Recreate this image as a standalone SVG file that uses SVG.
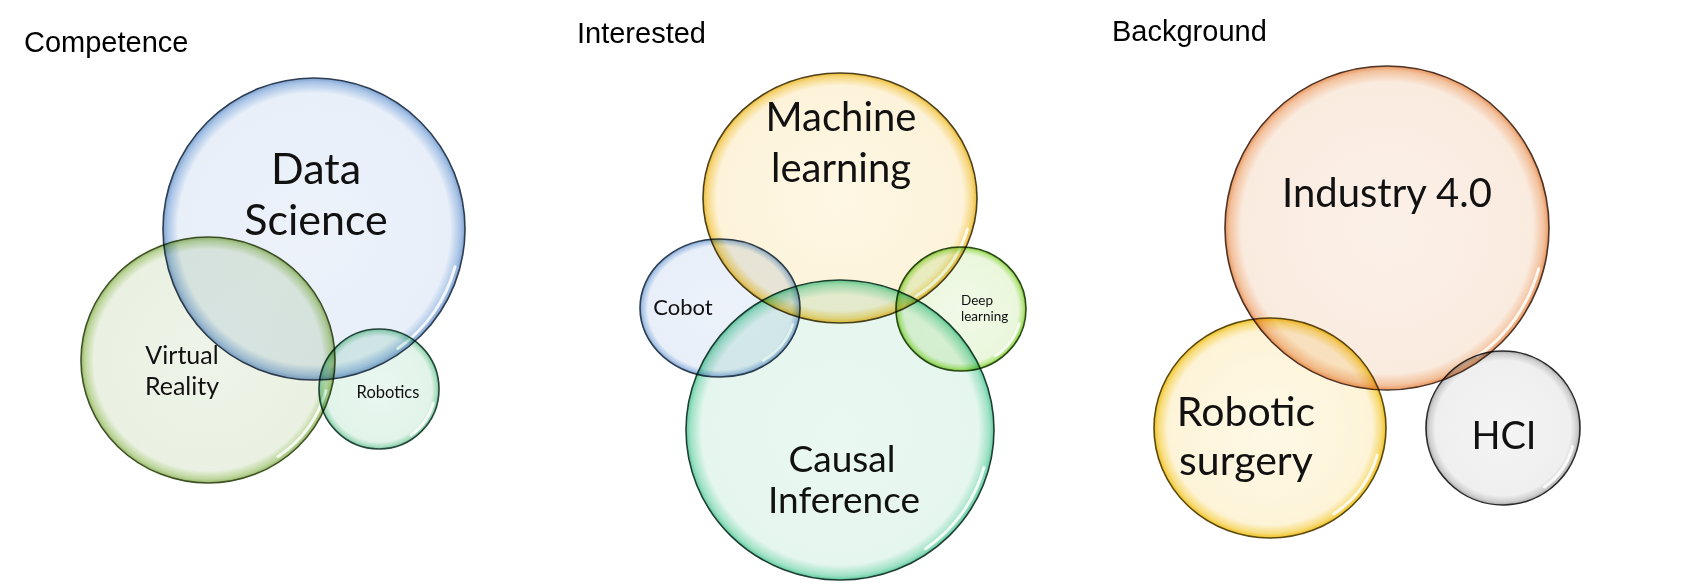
<svg xmlns="http://www.w3.org/2000/svg" width="1688" height="586" viewBox="0 0 1688 586">
<defs>
<radialGradient id="gBlue"><stop offset="0" stop-color="#EDF2FA"/><stop offset="0.9" stop-color="#E8EFF9"/><stop offset="0.97" stop-color="#A9C4E6"/><stop offset="1" stop-color="#7FA3D2"/></radialGradient>
<radialGradient id="gGreen"><stop offset="0" stop-color="#EEF4E8"/><stop offset="0.9" stop-color="#EAF1E2"/><stop offset="0.97" stop-color="#BCD59A"/><stop offset="1" stop-color="#96B868"/></radialGradient>
<radialGradient id="gTeal"><stop offset="0" stop-color="#E9F7F0"/><stop offset="0.88" stop-color="#E2F4EA"/><stop offset="0.96" stop-color="#A8DDBF"/><stop offset="1" stop-color="#79C79E"/></radialGradient>
<radialGradient id="gGold"><stop offset="0" stop-color="#FEF7E4"/><stop offset="0.9" stop-color="#FDF3DA"/><stop offset="0.97" stop-color="#F6D77E"/><stop offset="1" stop-color="#EEBB33"/></radialGradient>
<radialGradient id="gLime"><stop offset="0" stop-color="#F1F9E8"/><stop offset="0.88" stop-color="#EAF7DC"/><stop offset="0.96" stop-color="#B6E584"/><stop offset="1" stop-color="#7CCB32"/></radialGradient>
<radialGradient id="gAqua"><stop offset="0" stop-color="#EAF8F2"/><stop offset="0.9" stop-color="#E5F6EE"/><stop offset="0.97" stop-color="#A0E2C6"/><stop offset="1" stop-color="#62CDA0"/></radialGradient>
<radialGradient id="gOrange"><stop offset="0" stop-color="#FBF0E8"/><stop offset="0.9" stop-color="#FAEBDF"/><stop offset="0.97" stop-color="#F3C29E"/><stop offset="1" stop-color="#E9965E"/></radialGradient>
<radialGradient id="gYellow"><stop offset="0" stop-color="#FEF8E6"/><stop offset="0.88" stop-color="#FDF4D8"/><stop offset="0.96" stop-color="#F8DC7A"/><stop offset="1" stop-color="#F0C020"/></radialGradient>
<radialGradient id="gGray"><stop offset="0" stop-color="#F4F4F4"/><stop offset="0.88" stop-color="#EFEFEF"/><stop offset="0.96" stop-color="#CFCFCF"/><stop offset="1" stop-color="#A8A8A8"/></radialGradient>
</defs>
<style>
.bub{mix-blend-mode:multiply;stroke-width:1.6}
.hl{fill:none;stroke:#FFFFFF;stroke-width:3;stroke-linecap:round;opacity:0.85}
.title{font-family:"Liberation Sans",Arial,sans-serif;font-size:29px;fill:#000}
.lbl{font-family:Lato,"Open Sans",sans-serif;fill:#111;text-anchor:middle}
.lbs{font-family:Lato,"Open Sans",sans-serif;fill:#111;font-size:13.5px}
</style>
<rect width="1688" height="586" fill="#FFFFFF"/>

<g id="titles">
<text class="title" x="24" y="52">Competence</text>
<text class="title" x="577" y="43">Interested</text>
<text class="title" x="1112" y="41">Background</text>
</g>

<g id="connectors"></g>

<g id="data-science">
<ellipse class="bub" cx="314" cy="229" rx="151" ry="151" fill="url(#gBlue)" stroke="#2E3E52"/>
<path class="hl" d="M455,266.8 A146,146 0 0 1 397.8,348.6"/>
</g>
<g id="virtual-reality">
<ellipse class="bub" cx="208" cy="360" rx="127" ry="123" fill="url(#gGreen)" stroke="#3F5226"/>
<path class="hl" d="M325.9,390.6 A122,118 0 0 1 278,456.6"/>
</g>
<g id="robotics">
<ellipse class="bub" cx="379" cy="389" rx="60" ry="60" fill="url(#gTeal)" stroke="#24473A"/>
<path class="hl" d="M433.1,403.5 A56,56 0 0 1 411.1,434.9"/>
</g>

<g id="machine-learning">
<ellipse class="bub" cx="840" cy="198" rx="137" ry="125" fill="url(#gGold)" stroke="#4D401C"/>
<path class="hl" d="M967.5,229.1 A132,120 0 0 1 915.8,296.3"/>
</g>
<g id="cobot">
<ellipse class="bub" cx="720" cy="308" rx="80" ry="69" fill="url(#gBlue)" stroke="#2E3E52"/>
<path class="hl" d="M792.5,324.6 A75,64 0 0 1 763.1,360.4"/>
</g>
<g id="deep-learning">
<ellipse class="bub" cx="961" cy="309" rx="65" ry="62" fill="url(#gLime)" stroke="#2C4A18"/>
<path class="hl" d="M1019,323.8 A60,57 0 0 1 995.4,355.7"/>
</g>
<g id="causal-inference">
<ellipse class="bub" cx="840" cy="430" rx="154" ry="150" fill="url(#gAqua)" stroke="#1E3F33"/>
<path class="hl" d="M983.9,467.6 A149,145 0 0 1 925.5,548.8"/>
</g>

<g id="industry">
<ellipse class="bub" cx="1387" cy="228" rx="162" ry="162" fill="url(#gOrange)" stroke="#4E3326"/>
<path class="hl" d="M1538.7,268.7 A157,157 0 0 1 1477.1,356.6"/>
</g>
<g id="robotic-surgery">
<ellipse class="bub" cx="1270" cy="428" rx="116" ry="110" fill="url(#gYellow)" stroke="#5A4A10"/>
<path class="hl" d="M1377.2,455.2 A111,105 0 0 1 1333.7,514"/>
</g>
<g id="hci">
<ellipse class="bub" cx="1503" cy="428" rx="77" ry="77" fill="url(#gGray)" stroke="#2A2A2A"/>
<path class="hl" d="M1572.6,446.6 A72,72 0 0 1 1544.3,487"/>
</g>

<g id="labels">
<text class="lbl" x="316" y="184" font-size="43">Data</text>
<text class="lbl" x="316" y="235" font-size="43">Science</text>
<text class="lbl" x="182" y="364" font-size="25">Virtual</text>
<text class="lbl" x="182" y="395" font-size="25">Reality</text>
<text class="lbl" x="388" y="398" font-size="16.5">Robotics</text>
<text class="lbl" x="841" y="131" font-size="40">Machine</text>
<text class="lbl" x="841" y="182" font-size="40">learning</text>
<text class="lbl" x="683" y="315" font-size="22">Cobot</text>
<text class="lbs" x="961" y="305">Deep</text>
<text class="lbs" x="961" y="321">learning</text>
<text class="lbl" x="842" y="472" font-size="37">Causal</text>
<text class="lbl" x="844" y="513" font-size="37">Inference</text>
<text class="lbl" x="1387" y="207" font-size="40">Industry 4.0</text>
<text class="lbl" x="1246" y="426" font-size="41">Robotic</text>
<text class="lbl" x="1246" y="475" font-size="41">surgery</text>
<text class="lbl" x="1504" y="449" font-size="38">HCI</text>
</g>
</svg>
